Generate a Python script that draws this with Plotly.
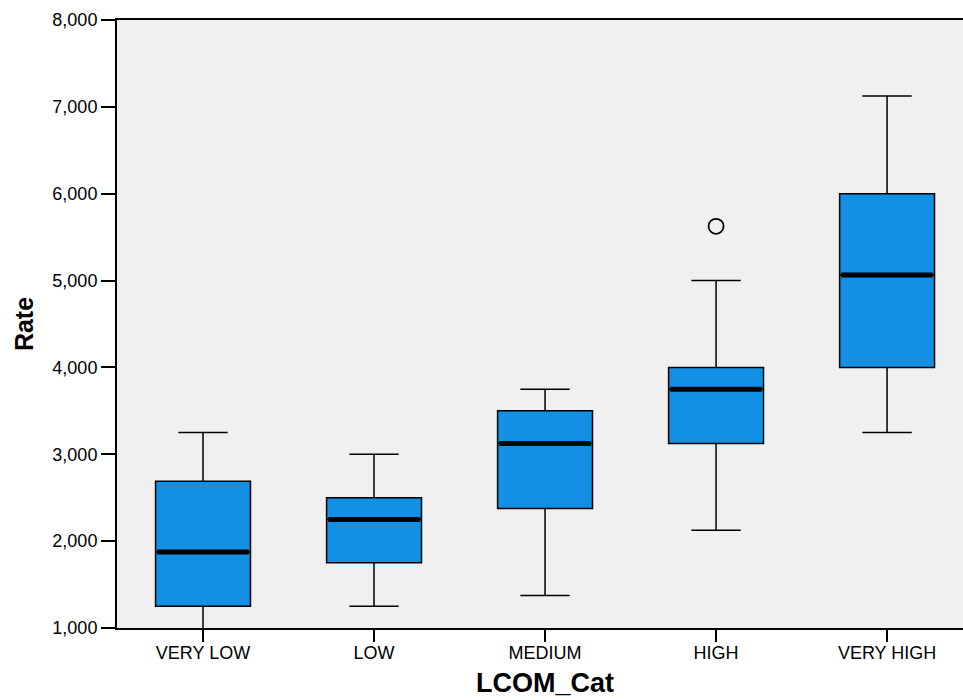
import plotly.graph_objects as go

categories = ["VERY LOW", "LOW", "MEDIUM", "HIGH", "VERY HIGH"]
lower_whisker = [750, 1250, 1375, 2125, 3250]
q1_vals = [1250, 1750, 2375, 3125, 4000]
median_vals = [1875, 2250, 3125, 3750, 5065]
q3_vals = [2690, 2500, 3500, 4000, 6000]
upper_whisker = [3250, 3000, 3750, 5000, 7125]
outlier_cat = [3]
outlier_vals = [5625]
y_ticks = [1000, 2000, 3000, 4000, 5000, 6000, 7000, 8000]

pos = list(range(len(categories)))
box_w = 0.555
font_family = "Liberation Sans, Arial, sans-serif"

fig = go.Figure()
fig.add_trace(go.Box(
    x=pos, q1=q1_vals, median=median_vals, q3=q3_vals,
    lowerfence=lower_whisker, upperfence=upper_whisker,
    width=box_w, whiskerwidth=0.52,
    fillcolor="rgb(19,143,228)",
    line=dict(color="black", width=1.5),
    boxpoints=False, showlegend=False, hoverinfo="skip",
))

# thick median lines
mx, my = [], []
for p, m in zip(pos, median_vals):
    mx += [p - box_w / 2 + 0.01, p + box_w / 2 - 0.01, None]
    my += [m, m, None]
fig.add_trace(go.Scatter(x=mx, y=my, mode="lines",
                         line=dict(color="black", width=5),
                         showlegend=False, hoverinfo="skip"))

fig.add_trace(go.Scatter(x=outlier_cat, y=outlier_vals, mode="markers",
                         marker=dict(symbol="circle-open", size=15, color="black",
                                     line=dict(width=1.8, color="black")),
                         showlegend=False, hoverinfo="skip"))

W, H = 963, 700
ML, MR, MT, MB = 117, 0, 20, 72

fig.update_layout(
    width=W, height=H,
    margin=dict(l=ML, r=MR, t=MT, b=MB, pad=0),
    paper_bgcolor="white", plot_bgcolor="rgb(240,240,240)",
    font=dict(family=font_family, size=18, color="black"),
    xaxis=dict(
        range=[-0.503, 4.444], tickvals=pos, ticktext=categories,
        ticks="outside", ticklen=12, tickwidth=1.5, tickcolor="black",
        showline=True, linecolor="black", linewidth=2, mirror=True,
        showgrid=False, zeroline=False,
        tickfont=dict(size=18), ticklabelstandoff=-5,
    ),
    yaxis=dict(
        range=[1000, 8000], tickvals=y_ticks, tickformat=",",
        ticks="outside", ticklen=14, tickwidth=1.5, tickcolor="black",
        showline=True, linecolor="black", linewidth=2,
        showgrid=False, zeroline=False,
        tickfont=dict(size=18),
        title=dict(text="<b>Rate</b>", font=dict(size=25), standoff=12),
    ),
    annotations=[dict(
        text="<b>LCOM_Cat</b>", x=2, xref="x",
        y=(H - MB - 683) / (H - MB - MT), yref="paper",
        showarrow=False, font=dict(size=27), yanchor="middle",
    )],
)

fig.write_html(
    "out.html",
    config={"displayModeBar": False},
    post_script="document.body.style.margin='0';document.body.style.overflow='hidden';",
)
